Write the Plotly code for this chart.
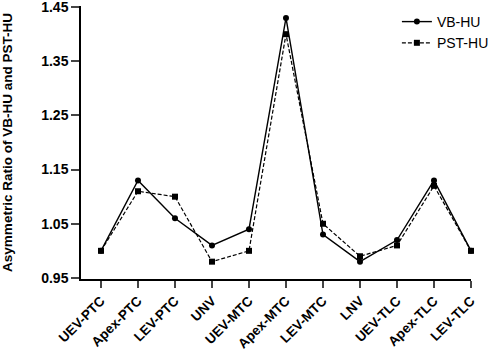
import plotly.graph_objects as go

categories = ["UEV-PTC", "Apex-PTC", "LEV-PTC", "UNV", "UEV-MTC", "Apex-MTC",
              "LEV-MTC", "LNV", "UEV-TLC", "Apex-TLC", "LEV-TLC"]
vb_hu = [1.00, 1.13, 1.06, 1.01, 1.04, 1.43, 1.03, 0.98, 1.02, 1.13, 1.00]
pst_hu = [1.00, 1.11, 1.10, 0.98, 1.00, 1.40, 1.05, 0.99, 1.01, 1.12, 1.00]
y_ticks = [0.95, 1.05, 1.15, 1.25, 1.35, 1.45]

xs = list(range(len(categories)))
fam = "Liberation Sans, Arial, sans-serif"

fig = go.Figure()
fig.add_trace(go.Scatter(x=xs, y=vb_hu, name="VB-HU", mode="lines+markers",
                         line=dict(color="black", width=1.4),
                         marker=dict(symbol="circle", size=6, color="black"),
                         cliponaxis=False))
fig.add_trace(go.Scatter(x=xs, y=pst_hu, name="PST-HU", mode="lines+markers",
                         line=dict(color="black", width=1.2, dash="4px,2px"),
                         marker=dict(symbol="square", size=6, color="black"),
                         cliponaxis=False))

fig.update_layout(
    width=500, height=354,
    margin=dict(l=81, r=9, t=6, b=75),
    plot_bgcolor="white", paper_bgcolor="white",
    font=dict(family=fam, color="black"),
    legend=dict(x=0.81, y=1.0, xanchor="left", yanchor="top",
                font=dict(size=14, family=fam), bgcolor="rgba(0,0,0,0)",
                tracegroupgap=4),
    xaxis=dict(range=[-0.54, 10], tickmode="array", tickvals=xs, ticktext=categories,
               tickangle=-45, ticks="outside", ticklen=7, tickwidth=1.5,
               showline=True, linecolor="black", linewidth=1.5, showgrid=False,
               zeroline=False, automargin=False, ticklabeloverflow="allow",
               tickfont=dict(size=13.5, family=fam, weight="bold", color="black")),
    yaxis=dict(range=[0.948, 1.452], tickmode="array", tickvals=y_ticks,
               ticktext=[f"{v:.2f}" for v in y_ticks],
               ticks="outside", ticklen=8, tickwidth=1.5,
               showline=True, linecolor="black", linewidth=1.5, showgrid=False,
               zeroline=False, automargin=False, ticklabeloverflow="allow",
               title=dict(text="Asymmetric Ratio of VB-HU and PST-HU", standoff=25,
                          font=dict(size=13.5, family=fam, weight="bold", color="black")),
               tickfont=dict(size=14, family=fam, weight="bold", color="black")),
)

fig.write_html("out.html", config={"displayModeBar": False},
               post_script="document.body.style.margin='0';document.body.style.padding='0';")
